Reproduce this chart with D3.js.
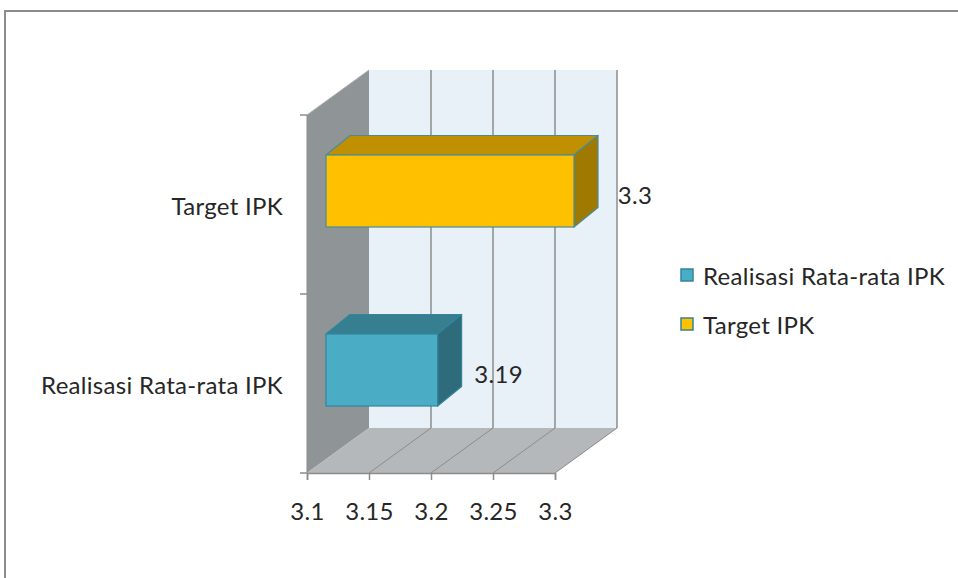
<!DOCTYPE html>
<html><head><meta charset="utf-8">
<script src="https://cdn.jsdelivr.net/npm/d3@7"></script>
<style>
html,body{margin:0;padding:0;background:#fff;}
svg{display:block;font-family:Lato,"Open Sans",sans-serif;}
</style></head>
<body>
<svg id="chart" width="958" height="578"></svg>
<script>
// Data
const categories = ["Target IPK", "Realisasi Rata-rata IPK"];
const values = [3.3, 3.19];
const legendLabels = ["Realisasi Rata-rata IPK", "Target IPK"];
const xTicks = [3.1, 3.15, 3.2, 3.25, 3.3];
const xTickLabels = ["3.1", "3.15", "3.2", "3.25", "3.3"];

const FS = 24;
const LS = 0.3;
const TXT = "#262626";
const svg = d3.select("#chart");

// frame
svg.append("path").attr("d","M5,578 L5,11 L958,11")
  .attr("fill","none").attr("stroke","#8c8c8c").attr("stroke-width",2);

const x = d3.scaleLinear().domain([3.1,3.3]).range([307,555]);
const y = d3.scaleBand().domain(categories).range([115,473]);
const D = {dx:62, dy:-45};          // depth of 3D box
const F = {dx:19, dy:-13.5};        // bar front face offset
const B = {dx:24, dy:-19.5};        // bar depth
const barH = 72;

const x0 = x.range()[0], x1 = x.range()[1];
const yTop = y.range()[0], yBot = y.range()[1];

const poly = pts => "M" + pts.map(p=>p.join(",")).join("L") + "Z";

// back wall
svg.append("path").attr("d", poly([[x0+D.dx,yTop+D.dy],[x1+D.dx,yTop+D.dy],[x1+D.dx,yBot+D.dy],[x0+D.dx,yBot+D.dy]]))
  .attr("fill","#e8f1f7");
// left wall
svg.append("path").attr("d", poly([[x0,yTop],[x0+D.dx,yTop+D.dy],[x0+D.dx,yBot+D.dy],[x0,yBot]]))
  .attr("fill","#8f9597");
// floor
svg.append("path").attr("d", poly([[x0,yBot],[x0+D.dx,yBot+D.dy],[x1+D.dx,yBot+D.dy],[x1,yBot]]))
  .attr("fill","#b4b8bb");

// gridlines on back wall + floor lines
xTicks.forEach((t,i)=>{
  if(i>0){
    svg.append("line").attr("x1",x(t)+D.dx).attr("x2",x(t)+D.dx)
      .attr("y1",yTop+D.dy).attr("y2",yBot+D.dy).attr("stroke","#8c8c8c").attr("stroke-width",1.5);
    svg.append("line").attr("x1",x(t)).attr("x2",x(t)+D.dx)
      .attr("y1",yBot).attr("y2",yBot+D.dy).attr("stroke","#8c8c8c").attr("stroke-width",1);
  }
});
// left wall top edge
svg.append("line").attr("x1",x0).attr("y1",yTop).attr("x2",x0+D.dx).attr("y2",yTop+D.dy)
  .attr("stroke","#a9aeb0").attr("stroke-width",1);

// bars
const colors = {
  "Target IPK": {front:"#ffc000", top:"#c09000", side:"#a07900", stroke:"#4a8b9a"},
  "Realisasi Rata-rata IPK": {front:"#4bacc6", top:"#367f90", side:"#2e6b7b", stroke:"#31859c"}
};
categories.forEach((c,i)=>{
  const v = values[i];
  const col = colors[c];
  const cy = y(c) + y.bandwidth()/2 + F.dy;
  const fl = x(3.1) + F.dx, fr = x(v) + F.dx;
  const ft = cy - barH/2, fb = cy + barH/2;
  const g = svg.append("g");
  g.append("path").attr("d", poly([[fl,ft],[fl+B.dx,ft+B.dy],[fr+B.dx,ft+B.dy],[fr,ft]]))
    .attr("fill",col.top).attr("stroke",col.stroke).attr("stroke-width",1.2).attr("stroke-linejoin","round");
  g.append("path").attr("d", poly([[fr,ft],[fr+B.dx,ft+B.dy],[fr+B.dx,fb+B.dy],[fr,fb]]))
    .attr("fill",col.side).attr("stroke",col.stroke).attr("stroke-width",1.2).attr("stroke-linejoin","round");
  g.append("rect").attr("x",fl).attr("y",ft).attr("width",fr-fl).attr("height",barH)
    .attr("fill",col.front).attr("stroke",col.stroke).attr("stroke-width",1.2);
  svg.append("text").attr("x", fr+B.dx+37).attr("y", cy+3)
    .attr("text-anchor","middle").attr("dominant-baseline","central")
    .attr("font-size",FS).attr("letter-spacing",LS).attr("fill",TXT).text(d3.format("")(v));
});

// axes ticks
const axisCol = "#8c8c8c";
[yTop, y(categories[1]), yBot].forEach(yy=>{
  svg.append("line").attr("x1",x0-7).attr("x2",x0).attr("y1",yy).attr("y2",yy)
    .attr("stroke",axisCol).attr("stroke-width",1.5);
});
svg.append("line").attr("x1",x0).attr("x2",x0).attr("y1",yTop).attr("y2",yBot)
  .attr("stroke",axisCol).attr("stroke-width",1);

const xAxis = d3.axisBottom(x).tickValues(xTicks).tickSize(7).tickPadding(23)
  .tickFormat((d,i)=>xTickLabels[i]);
const gx = svg.append("g").attr("transform",`translate(0,${yBot})`).call(xAxis);
gx.select(".domain").attr("stroke",axisCol).attr("stroke-width",1.5);
gx.selectAll(".tick line").attr("stroke",axisCol).attr("stroke-width",1.5);
gx.selectAll(".tick text").attr("font-size",FS).attr("letter-spacing",LS)
  .attr("font-family","Lato,'Open Sans',sans-serif").attr("fill",TXT);

// category labels
categories.forEach(c=>{
  svg.append("text").attr("x",283).attr("y",y(c)+y.bandwidth()/2+1)
    .attr("text-anchor","end").attr("dominant-baseline","central")
    .attr("font-size",FS).attr("letter-spacing",LS).attr("fill",TXT).text(c);
});

// legend
const legColors = ["#4bacc6","#ffc000"];
legendLabels.forEach((l,i)=>{
  const ly = 275 + i*49;
  svg.append("rect").attr("x",681).attr("y",ly-6).attr("width",12).attr("height",12)
    .attr("fill",legColors[i]).attr("stroke","#31859c").attr("stroke-width",1.5);
  svg.append("text").attr("x",703).attr("y",ly).attr("dominant-baseline","central")
    .attr("font-size",FS).attr("letter-spacing",LS).attr("fill",TXT).text(l);
});
</script>
</body></html>
